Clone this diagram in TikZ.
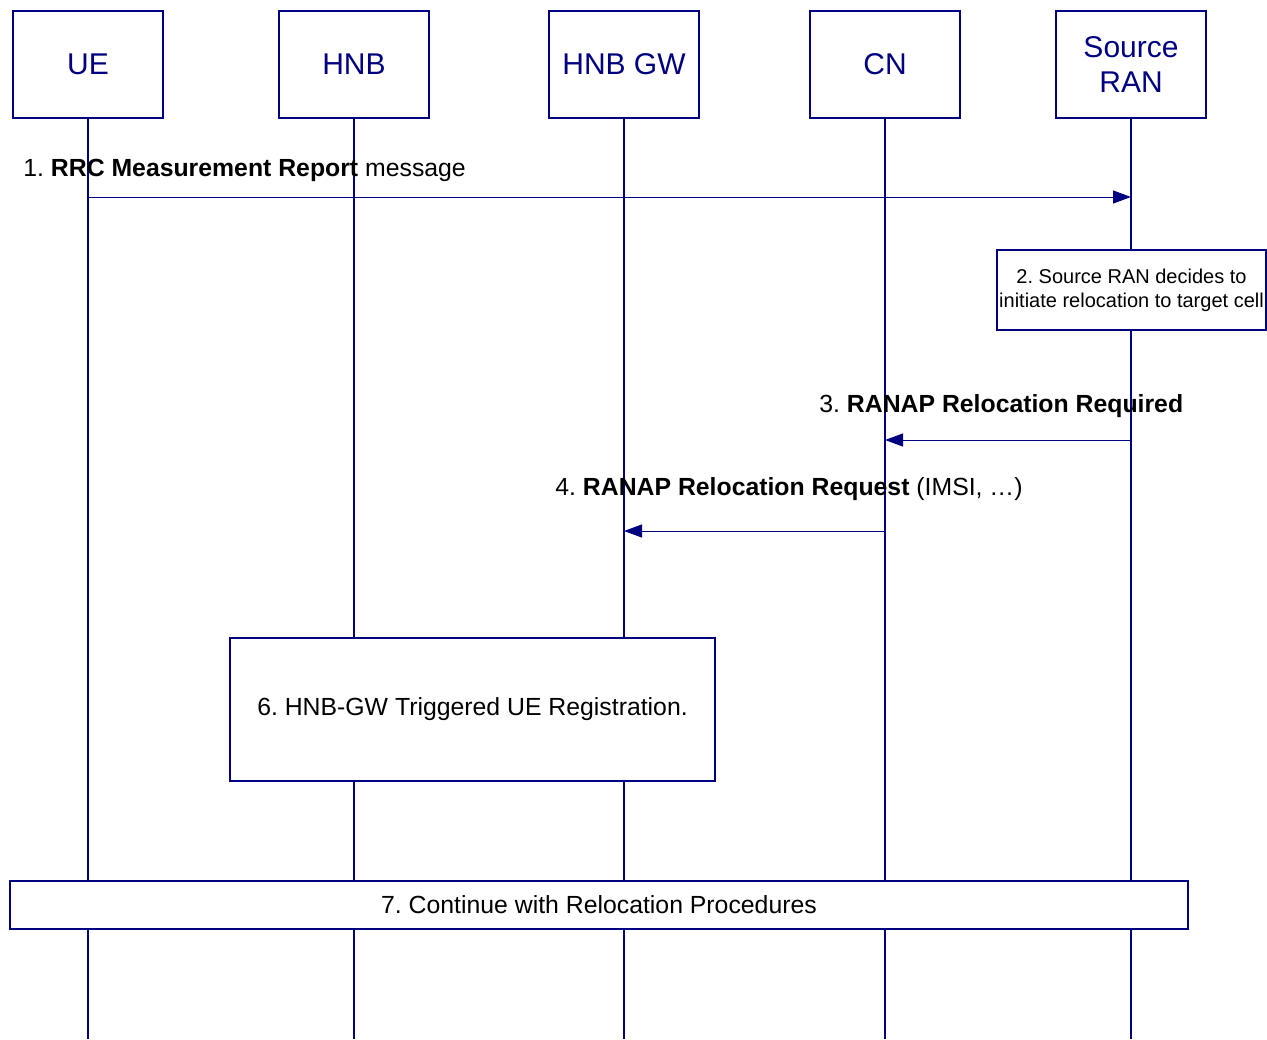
\documentclass[tikz,border=0pt]{standalone}
\usepackage{fontspec}
\setmainfont{Liberation Sans}
\usepackage{tikz}
\usetikzlibrary{arrows.meta,positioning}
\definecolor{seqblue}{RGB}{0,0,128}
\frenchspacing

\tikzset{
  entity/.style={draw=seqblue, line width=1pt, fill=white, minimum width=75pt, minimum height=53.5pt,
    text=seqblue, font=\fontsize{15}{17.5}\selectfont, align=center},
  lifeline/.style={draw=seqblue, line width=0.75pt},
  msg/.style={draw=seqblue, line width=0.5pt, -{Triangle[length=9pt,width=6.5pt]}},
  msglabel/.style={anchor=base west, inner sep=0pt, font=\fontsize{12.4}{14}\selectfont},
  actbox/.style={draw=seqblue, line width=1pt, fill=white, align=center, inner sep=0pt}
}

\begin{document}
\begin{tikzpicture}[x=0.5pt, y=-0.5pt]
        \useasboundingbox (0,0) rectangle (1267,1039);

        % Entities
        \node[entity] (ue) at (88,64.5) {UE};
        \node[entity] (hnb) at (354,64.5) {HNB};
        \node[entity] (hnbgw) at (624,64.5) {HNB GW};
        \node[entity] (cn) at (885,64.5) {CN};
        \node[entity] (sran) at (1131,64.5) {Source\\RAN};

        % Lifelines
        \coordinate (bottom) at (0,1039);
        \foreach \e in {ue,hnb,hnbgw,cn,sran} {
            \draw[lifeline] (\e.south) -- (\e |- bottom);
        }

        % 1. RRC Measurement Report
        \coordinate (m1) at (0,197);
        \draw[msg] (ue |- m1) -- (sran |- m1);
        \node[msglabel] (l1) at (23,176.5) {1. \textbf{RRC Measurement Report} message};

        % 2. Decision box
        \node[actbox, minimum width=134.5pt, minimum height=40pt, font=\fontsize{10}{12}\selectfont]
            (decide) at (1131.5,290) {2. Source RAN decides to\\initiate relocation to target cell};

        % 3. RANAP Relocation Required
        \coordinate (m3) at (0,440);
        \draw[msg] (sran |- m3) -- (cn |- m3);
        \node[msglabel] (l3) at (819,412.5) {3. \textbf{RANAP Relocation Required}};

        % 4. RANAP Relocation Request
        \coordinate (m4) at (0,531);
        \draw[msg] (cn |- m4) -- (hnbgw |- m4);
        \node[msglabel] (l4) at (555,495.5) {4. \textbf{RANAP Relocation Request} (IMSI, \ldots)};

        % 6. UE Registration
        \node[actbox, minimum width=242.5pt, minimum height=71.5pt, font=\fontsize{12.4}{14}\selectfont]
            (reg) at (472.5,709) {6. HNB-GW Triggered UE Registration.};

        % 7. Continue
        \node[actbox, minimum width=589pt, minimum height=24pt, font=\fontsize{12.4}{14}\selectfont]
            (cont) at (599,905) {7. Continue with Relocation Procedures};
\end{tikzpicture}
\end{document}
